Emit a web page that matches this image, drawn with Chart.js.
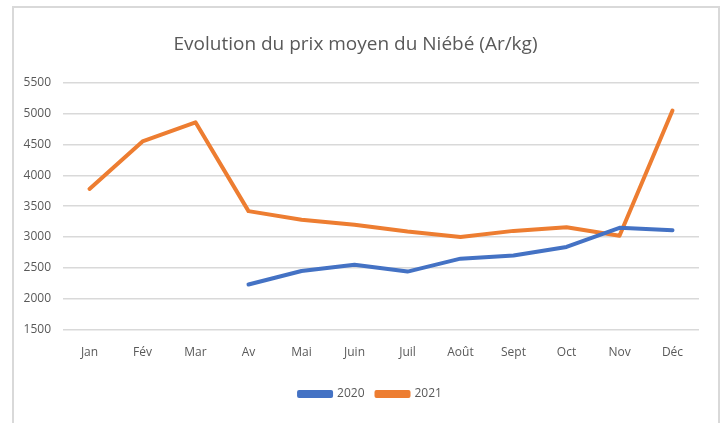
<!DOCTYPE html>
<html>
<head>
<meta charset="utf-8">
<script src="https://cdn.jsdelivr.net/npm/chart.js@4"></script>
<style>
  html, body { margin: 0; padding: 0; background: #fff; }
  #wrap { position: relative; width: 726px; height: 423px; overflow: hidden; }
  #frame { position: absolute; left: 12px; top: 6px; width: 708px; height: 440px;
           border: 2px solid #d9d9d9; box-sizing: border-box; }
  canvas { position: absolute; left: 0; top: 0; }
</style>
</head>
<body>
<div id="wrap">
  <div id="frame"></div>
  <canvas id="chart" width="726" height="423"></canvas>
</div>
<script>
// months on the x axis
const months = ['Jan', 'Fév', 'Mar', 'Av', 'Mai', 'Juin', 'Juil', 'Août', 'Sept', 'Oct', 'Nov', 'Déc'];

// average price (Ar/kg), no data for 2020 before April
const prix2020 = [null, null, null, 2230, 2450, 2550, 2440, 2650, 2700, 2840, 3150, 3110];
const prix2021 = [3780, 4550, 4860, 3420, 3280, 3200, 3090, 3000, 3100, 3160, 3020, 5050];

const yMin = 1500;
const yMax = 5500;
const yStep = 500;

Chart.defaults.font.family = "'Open Sans', sans-serif";
Chart.defaults.color = '#595959';

// the legend is centred on the whole frame, not on the padded area
const legendShift = {
  id: 'legendShift',
  afterLayout(chart) {
    chart.legend.left += 15;
    chart.legend.right += 15;
  }
};

const ctx = document.getElementById('chart').getContext('2d');

const chart = new Chart(ctx, {
  type: 'line',
  data: {
    labels: months,
    datasets: [
      {
        label: '2020',
        data: prix2020,
        borderColor: '#4472C4',
        backgroundColor: '#4472C4',
        borderWidth: 4,
        borderCapStyle: 'round',
        borderJoinStyle: 'round',
        pointRadius: 0,
        tension: 0,
        spanGaps: false
      },
      {
        label: '2021',
        data: prix2021,
        borderColor: '#ED7D31',
        backgroundColor: '#ED7D31',
        borderWidth: 4,
        borderCapStyle: 'round',
        borderJoinStyle: 'round',
        pointRadius: 0,
        tension: 0
      }
    ]
  },
  options: {
    responsive: false,
    animation: false,
    layout: {
      padding: { left: 12, right: 27, top: 0, bottom: 13 }
    },
    plugins: {
      title: {
        display: true,
        text: 'Evolution du prix moyen du Niébé (Ar/kg)',
        font: { size: 19, weight: 'normal' },
        color: '#595959',
        padding: { top: 33, bottom: 27 }
      },
      legend: {
        position: 'bottom',
        labels: {
          boxWidth: 32,
          boxHeight: 4,
          padding: 12,
          font: { size: 12 },
          color: '#595959'
        }
      },
      tooltip: { enabled: false }
    },
    scales: {
      x: {
        offset: true,
        grid: { display: false, drawTicks: false },
        border: { display: false },
        ticks: { padding: 16, font: { size: 12 }, maxRotation: 0 }
      },
      y: {
        min: yMin,
        max: yMax,
        grid: { color: '#d9d9d9', lineWidth: 1.5, drawTicks: false },
        border: { display: false },
        ticks: {
          stepSize: yStep,
          padding: 12,
          font: { size: 12 },
          callback: function (v) { return String(v); }
        },
        afterFit: function (scale) { scale.width = 51; }
      }
    }
  },
  plugins: [legendShift]
});
</script>
</body>
</html>
